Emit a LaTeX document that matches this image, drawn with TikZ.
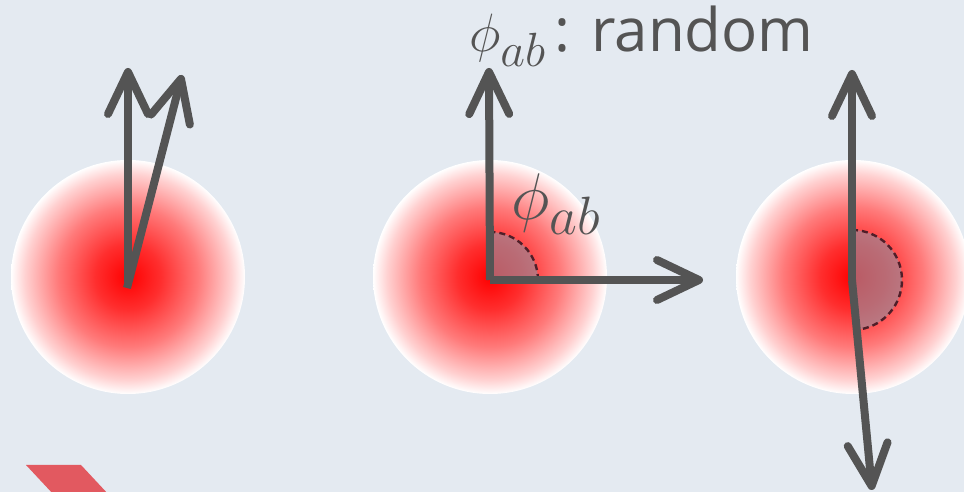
\documentclass[tikz,border=0pt]{standalone}
\usepackage{fix-cm}
\usepackage{fontspec}
\newfontfamily\labelfont{Open Sans}
\usetikzlibrary{calc,arrows.meta}
\DeclareMathSizes{54}{54}{48}{40}
\DeclareMathSizes{66}{66}{54}{44}
\definecolor{bgblue}{RGB}{228,234,241}
\definecolor{vecgray}{RGB}{84,84,84}
\definecolor{wedge}{RGB}{150,140,155}
\definecolor{wedgeline}{RGB}{80,30,40}
\definecolor{bulletred}{RGB}{226,89,96}
\pgfdeclareradialshading{glow}{\pgfpoint{0bp}{0bp}}{color(0bp)=(red); color(7bp)=(red!82!white); color(15bp)=(red!52!white); color(22bp)=(red!18!white); color(25bp)=(white); color(50bp)=(white)}

\begin{document}
\begin{tikzpicture}[x=1pt,y=1pt,
  vec/.style={line width=8pt,vecgray,-{Straight Barb[length=42pt,width=40pt,round]}},
  wedgefill/.style={fill=wedge,fill opacity=0.65},
  wedgearc/.style={wedgeline,line width=2.4pt,dash pattern=on 6pt off 4pt}]
  % background
  \fill[bgblue] (0,0) rectangle (964,492);
  \useasboundingbox (0,0) rectangle (964,492);
  \clip (0,0) rectangle (964,492);

  % the three spots
  \shade[shading=glow] (128,215) circle (117);
  \shade[shading=glow] (490,215) circle (117);
  \shade[shading=glow] (853,215) circle (117);

  % vertices and tips
  \coordinate (o1) at (128,210);
  \coordinate (o1b) at (127,204);
  \coordinate (o2) at (490,212);
  \coordinate (o3) at (852,212);
  \coordinate (up1) at (128,424);
  \coordinate (tilt1) at (182,417);
  \coordinate (up2) at (489,424);
  \coordinate (right2) at (703,212);
  \coordinate (up3) at (852,422);
  \coordinate (down3) at (872,2);

  % angle wedges
  \fill[wedgefill] (o2) -- ++(0:48) arc (0:90:48) -- cycle;
  \draw[wedgearc] ($(o2)+(0:48)$) arc (0:90:48);
  \fill[wedgefill] (o3) -- ++(90:50) arc (90:-80:50) -- cycle;
  \draw[wedgearc] ($(o3)+(90:50)$) arc (90:-80:50);

  % spins
  \draw[vec] (o1) -- (up1);
  \draw[vec] (o1b) -- (tilt1);
  \draw[vec] (o2) -- (up2);
  \draw[vec] (o2) -- (right2);
  \draw[vec] (o3) -- (up3);
  \draw[vec] (o3) -- (down3);

  % labels
  \node[anchor=base west,inner sep=0pt,text=vecgray] (phitop) at (469,440)
    {\fontsize{54}{60}\selectfont$\phi_{ab}$\hspace{9pt}\labelfont\fontsize{60}{66}\selectfont: random};
  \node[anchor=base west,inner sep=0pt,text=vecgray] (phimid) at (511,272)
    {\fontsize{66}{72}\selectfont$\phi_{ab}$};

  % bullet, cut off at the bottom
  \fill[bulletred] (26,27) -- (81,27) -- (109,-3) -- (54,-3) -- cycle;
\end{tikzpicture}
\end{document}
